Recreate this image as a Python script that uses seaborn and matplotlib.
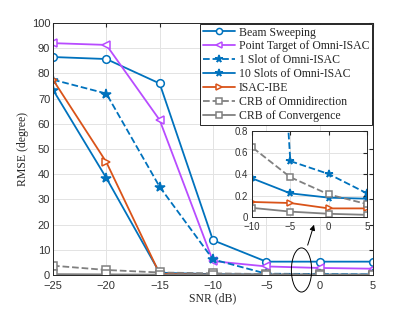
import seaborn as sns
import matplotlib.pyplot as plt
import numpy as np
import pandas as pd
from matplotlib.patches import Ellipse

# datos
snr = [-25, -20, -15, -10, -5, 0, 5]
beam_sweeping = [86.5, 85.7, 76.0, 13.8, 5.3, 5.3, 5.3]
point_target = [92.0, 91.3, 61.5, 5.5, 3.4, 2.8, 2.5]
one_slot = [77.5, 72.0, 35.0, 6.2, 0.52, 0.40, 0.22]
ten_slots = [73.5, 38.5, 0.9, 0.36, 0.22, 0.18, 0.17]
isac_ibe = [77.5, 44.8, 0.5, 0.14, 0.13, 0.08, 0.08]
crb_omni = [3.7, 2.0, 1.0, 0.65, 0.37, 0.21, 0.12]
crb_conv = [0.35, 0.25, 0.15, 0.085, 0.05, 0.03, 0.02]

names = ["Beam Sweeping", "Point Target of Omni-ISAC", "1 Slot of Omni-ISAC",
         "10 Slots of Omni-ISAC", "ISAC-IBE", "CRB of Omnidirection",
         "CRB of Convergence"]
values = [beam_sweeping, point_target, one_slot, ten_slots, isac_ibe, crb_omni, crb_conv]

blue = "#0072BD"
orange = "#D95319"
purple = "#B84CFF"
gray = "#808080"
styles = [
    dict(color=blue, marker="o", ls="-", mfc="white", k=1.0),
    dict(color=purple, marker="<", ls="-", mfc="white", k=1.0),
    dict(color=blue, marker="*", ls="--", mfc=blue, k=1.25),
    dict(color=blue, marker="*", ls="-", mfc=blue, k=1.25),
    dict(color=orange, marker=">", ls="-", mfc="white", k=1.0),
    dict(color=gray, marker="s", ls="--", mfc="white", k=1.0),
    dict(color=gray, marker="s", ls="-", mfc="white", k=1.0),
]

df = pd.DataFrame({"SNR": snr * len(names),
                   "RMSE": np.concatenate(values),
                   "Method": np.repeat(names, len(snr))})

sns.set_style("whitegrid")
plt.rcParams["font.family"] = ["Liberation Sans", "DejaVu Sans"]

fig = plt.figure(figsize=(4.12, 3.09), dpi=100)
ax = fig.add_axes([0.1286, 0.110, 0.7767, 0.8156])


def draw(a, ms):
    for name, st in zip(names, styles):
        sns.lineplot(data=df[df["Method"] == name], x="SNR", y="RMSE", ax=a,
                     color=st["color"], marker=st["marker"], linestyle=st["ls"],
                     markerfacecolor=st["mfc"], markeredgecolor=st["color"],
                     markeredgewidth=1.1, markersize=ms * st["k"], linewidth=1.3,
                     label=name, legend=False)


def style_axes(a, fs):
    a.grid(True, color="#e3e3e3", linewidth=0.7)
    for s in a.spines.values():
        s.set_color("#262626")
        s.set_linewidth(0.7)
    a.tick_params(direction="in", length=3, labelsize=fs, colors="#262626",
                  labelcolor="#333333", top=True, right=True, pad=2)
    a.tick_params(axis="x", pad=4)
    a.set_xlabel("")
    a.set_ylabel("")


draw(ax, 5.5)
style_axes(ax, 8)
ax.set_xlim(-25, 5)
ax.set_ylim(0, 100)
ax.set_xticks(snr)
ax.set_yticks(np.arange(0, 101, 10))
ax.set_xlabel("SNR (dB)", family="Liberation Serif", fontsize=8.5, labelpad=1)
ax.set_ylabel("RMSE (degree)", family="Liberation Serif", fontsize=8.5, labelpad=2)

handles, labels = ax.get_legend_handles_labels()
leg = fig.legend(handles, labels, loc="upper right",
                 bbox_to_anchor=(372 / 412, 1 - 24 / 309), borderaxespad=0,
                 prop={"family": "Liberation Serif", "size": 8.5},
                 handlelength=2.7, handletextpad=0.35, labelspacing=0.16,
                 borderpad=0.22, fancybox=False, framealpha=1, edgecolor="#262626",
                 markerscale=0.8)
leg.get_frame().set_linewidth(0.7)

# elipse y flecha
ell = Ellipse((-1.7, 2.0), 1.9, 17.5, fill=False, edgecolor="black",
              linewidth=0.7, clip_on=False, zorder=5)
ax.add_patch(ell)
ax.annotate("", xy=(-0.45, 21), xytext=(-1.2, 10.8),
            arrowprops=dict(arrowstyle="-|>", color="black", lw=0.7,
                            mutation_scale=8), annotation_clip=False)

# grafico interior
axin = fig.add_axes([252 / 412, 1 - 217 / 309, 115 / 412, 86 / 309])
axin.set_facecolor("white")
draw(axin, 4.5)
style_axes(axin, 7)
axin.tick_params(axis="x", pad=3.5)
axin.tick_params(axis="y", pad=3)
axin.set_xlim(-10, 5)
axin.set_ylim(0, 0.8)
axin.set_xticks([-10, -5, 0, 5])
axin.set_yticks([0, 0.2, 0.4, 0.6, 0.8])
axin.set_yticklabels(["0", "0.2", "0.4", "0.6", "0.8"])

fig.savefig("out.png", dpi=100)
